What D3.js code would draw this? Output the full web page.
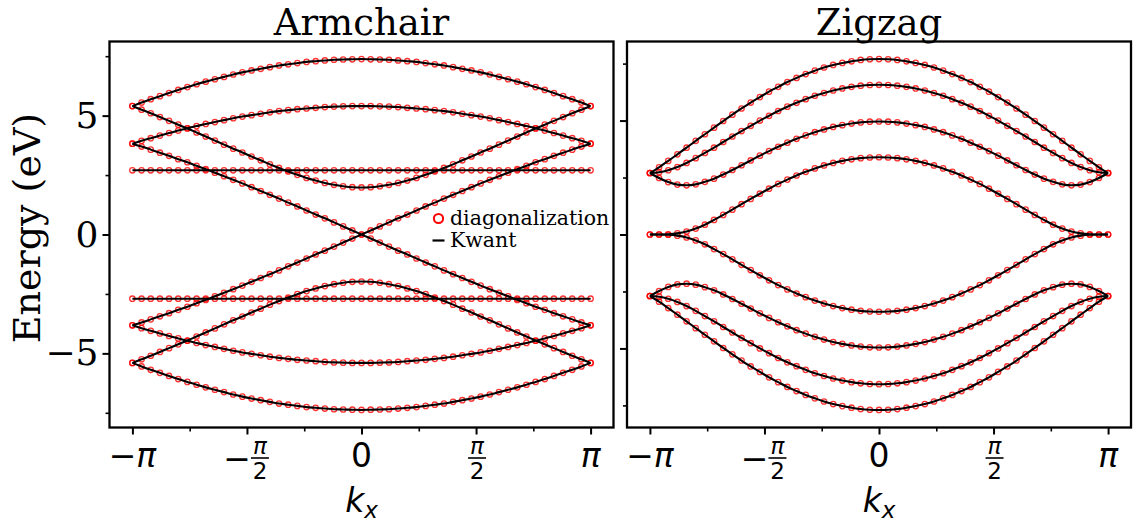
<!DOCTYPE html>
<html>
<head>
<meta charset="utf-8">
<script src="https://cdn.jsdelivr.net/npm/d3@7"></script>
<style>
  body { margin: 0; background: #fff; }
  svg { display: block; }
</style>
</head>
<body>
<svg id="chart" width="1140" height="526"></svg>
<script>
// Wave vector grid, in units of pi
const kx = [-1.00, -0.96, -0.92, -0.88, -0.84, -0.80, -0.76, -0.72, -0.68, -0.64, -0.60,
            -0.56, -0.52, -0.48, -0.44, -0.40, -0.36, -0.32, -0.28, -0.24, -0.20,
            -0.16, -0.12, -0.08, -0.04, 0.00, 0.04, 0.08, 0.12, 0.16, 0.20,
            0.24, 0.28, 0.32, 0.36, 0.40, 0.44, 0.48, 0.52, 0.56, 0.60,
            0.64, 0.68, 0.72, 0.76, 0.80, 0.84, 0.88, 0.92, 0.96, 1.00];

// Armchair ribbon bands (eV)
const arm1 = [5.40, 5.55, 5.69, 5.82, 5.95, 6.08, 6.20, 6.32, 6.43, 6.53, 6.63, 6.73, 6.82, 6.90, 6.97, 7.04, 7.11, 7.16, 7.21, 7.26, 7.29, 7.32, 7.35, 7.36, 7.37, 7.38, 7.37, 7.36, 7.35, 7.32, 7.29, 7.26, 7.21, 7.16, 7.11, 7.04, 6.97, 6.90, 6.82, 6.73, 6.63, 6.53, 6.43, 6.32, 6.20, 6.08, 5.95, 5.82, 5.69, 5.55, 5.40];
const arm2 = [3.82, 3.94, 4.05, 4.16, 4.27, 4.37, 4.47, 4.56, 4.65, 4.73, 4.81, 4.89, 4.96, 5.02, 5.08, 5.14, 5.19, 5.23, 5.27, 5.30, 5.33, 5.36, 5.38, 5.39, 5.40, 5.40, 5.40, 5.39, 5.38, 5.36, 5.33, 5.30, 5.27, 5.23, 5.19, 5.14, 5.08, 5.02, 4.96, 4.89, 4.81, 4.73, 4.65, 4.56, 4.47, 4.37, 4.27, 4.16, 4.05, 3.94, 3.82];
const arm3 = [2.70, 2.70, 2.70, 2.70, 2.70, 2.70, 2.70, 2.70, 2.70, 2.70, 2.70, 2.70, 2.70, 2.70, 2.70, 2.70, 2.70, 2.70, 2.70, 2.70, 2.70, 2.70, 2.70, 2.70, 2.70, 2.70, 2.70, 2.70, 2.70, 2.70, 2.70, 2.70, 2.70, 2.70, 2.70, 2.70, 2.70, 2.70, 2.70, 2.70, 2.70, 2.70, 2.70, 2.70, 2.70, 2.70, 2.70, 2.70, 2.70, 2.70, 2.70];
const arm4 = [5.40, 5.25, 5.10, 4.94, 4.78, 4.62, 4.46, 4.29, 4.12, 3.95, 3.78, 3.61, 3.45, 3.28, 3.12, 2.95, 2.80, 2.65, 2.51, 2.38, 2.27, 2.17, 2.09, 2.03, 1.99, 1.98, 1.99, 2.03, 2.09, 2.17, 2.27, 2.38, 2.51, 2.65, 2.80, 2.95, 3.12, 3.28, 3.45, 3.61, 3.78, 3.95, 4.12, 4.29, 4.46, 4.62, 4.78, 4.94, 5.10, 5.25, 5.40];
const arm5 = [-3.82, -3.70, -3.57, -3.44, -3.31, -3.17, -3.04, -2.89, -2.75, -2.60, -2.45, -2.30, -2.15, -1.99, -1.83, -1.67, -1.51, -1.34, -1.18, -1.01, -0.84, -0.68, -0.51, -0.34, -0.17, 0.00, 0.17, 0.34, 0.51, 0.68, 0.84, 1.01, 1.18, 1.34, 1.51, 1.67, 1.83, 1.99, 2.15, 2.30, 2.45, 2.60, 2.75, 2.89, 3.04, 3.17, 3.31, 3.44, 3.57, 3.70, 3.82];
const arm6 = [3.82, 3.70, 3.57, 3.44, 3.31, 3.17, 3.04, 2.89, 2.75, 2.60, 2.45, 2.30, 2.15, 1.99, 1.83, 1.67, 1.51, 1.34, 1.18, 1.01, 0.84, 0.68, 0.51, 0.34, 0.17, 0.00, -0.17, -0.34, -0.51, -0.68, -0.84, -1.01, -1.18, -1.34, -1.51, -1.67, -1.83, -1.99, -2.15, -2.30, -2.45, -2.60, -2.75, -2.89, -3.04, -3.17, -3.31, -3.44, -3.57, -3.70, -3.82];
const arm7 = [-5.40, -5.25, -5.10, -4.94, -4.78, -4.62, -4.46, -4.29, -4.12, -3.95, -3.78, -3.61, -3.45, -3.28, -3.12, -2.95, -2.80, -2.65, -2.51, -2.38, -2.27, -2.17, -2.09, -2.03, -1.99, -1.98, -1.99, -2.03, -2.09, -2.17, -2.27, -2.38, -2.51, -2.65, -2.80, -2.95, -3.12, -3.28, -3.45, -3.61, -3.78, -3.95, -4.12, -4.29, -4.46, -4.62, -4.78, -4.94, -5.10, -5.25, -5.40];
const arm8 = [-2.70, -2.70, -2.70, -2.70, -2.70, -2.70, -2.70, -2.70, -2.70, -2.70, -2.70, -2.70, -2.70, -2.70, -2.70, -2.70, -2.70, -2.70, -2.70, -2.70, -2.70, -2.70, -2.70, -2.70, -2.70, -2.70, -2.70, -2.70, -2.70, -2.70, -2.70, -2.70, -2.70, -2.70, -2.70, -2.70, -2.70, -2.70, -2.70, -2.70, -2.70, -2.70, -2.70, -2.70, -2.70, -2.70, -2.70, -2.70, -2.70, -2.70, -2.70];
const arm9 = [-3.82, -3.94, -4.05, -4.16, -4.27, -4.37, -4.47, -4.56, -4.65, -4.73, -4.81, -4.89, -4.96, -5.02, -5.08, -5.14, -5.19, -5.23, -5.27, -5.30, -5.33, -5.36, -5.38, -5.39, -5.40, -5.40, -5.40, -5.39, -5.38, -5.36, -5.33, -5.30, -5.27, -5.23, -5.19, -5.14, -5.08, -5.02, -4.96, -4.89, -4.81, -4.73, -4.65, -4.56, -4.47, -4.37, -4.27, -4.16, -4.05, -3.94, -3.82];
const arm10 = [-5.40, -5.55, -5.69, -5.82, -5.95, -6.08, -6.20, -6.32, -6.43, -6.53, -6.63, -6.73, -6.82, -6.90, -6.97, -7.04, -7.11, -7.16, -7.21, -7.26, -7.29, -7.32, -7.35, -7.36, -7.37, -7.38, -7.37, -7.36, -7.35, -7.32, -7.29, -7.26, -7.21, -7.16, -7.11, -7.04, -6.97, -6.90, -6.82, -6.73, -6.63, -6.53, -6.43, -6.32, -6.20, -6.08, -5.95, -5.82, -5.69, -5.55, -5.40];

// Zigzag ribbon bands (eV)
const zig1 = [2.70, 2.95, 3.23, 3.52, 3.81, 4.11, 4.40, 4.69, 4.98, 5.26, 5.53, 5.79, 6.03, 6.27, 6.48, 6.69, 6.87, 7.04, 7.19, 7.33, 7.44, 7.53, 7.60, 7.66, 7.69, 7.70, 7.69, 7.66, 7.60, 7.53, 7.44, 7.33, 7.19, 7.04, 6.87, 6.69, 6.48, 6.27, 6.03, 5.79, 5.53, 5.26, 4.98, 4.69, 4.40, 4.11, 3.81, 3.52, 3.23, 2.95, 2.70];
const zig2 = [2.70, 2.73, 2.82, 2.96, 3.14, 3.35, 3.58, 3.81, 4.06, 4.30, 4.54, 4.77, 5.00, 5.21, 5.42, 5.61, 5.78, 5.94, 6.09, 6.21, 6.32, 6.41, 6.48, 6.53, 6.56, 6.57, 6.56, 6.53, 6.48, 6.41, 6.32, 6.21, 6.09, 5.94, 5.78, 5.61, 5.42, 5.21, 5.00, 4.77, 4.54, 4.30, 4.06, 3.81, 3.58, 3.35, 3.14, 2.96, 2.82, 2.73, 2.70];
const zig3 = [2.70, 2.48, 2.30, 2.19, 2.16, 2.20, 2.31, 2.45, 2.63, 2.83, 3.04, 3.25, 3.46, 3.66, 3.85, 4.03, 4.20, 4.35, 4.49, 4.61, 4.72, 4.80, 4.87, 4.92, 4.95, 4.96, 4.95, 4.92, 4.87, 4.80, 4.72, 4.61, 4.49, 4.35, 4.20, 4.03, 3.85, 3.66, 3.46, 3.25, 3.04, 2.83, 2.63, 2.45, 2.31, 2.20, 2.16, 2.19, 2.30, 2.48, 2.70];
const zig4 = [0.00, 0.00, 0.01, 0.05, 0.13, 0.26, 0.43, 0.64, 0.86, 1.09, 1.33, 1.56, 1.79, 2.01, 2.22, 2.41, 2.59, 2.75, 2.90, 3.03, 3.14, 3.23, 3.30, 3.35, 3.38, 3.39, 3.38, 3.35, 3.30, 3.23, 3.14, 3.03, 2.90, 2.75, 2.59, 2.41, 2.22, 2.01, 1.79, 1.56, 1.33, 1.09, 0.86, 0.64, 0.43, 0.26, 0.13, 0.05, 0.01, 0.00, 0.00];
const zig5 = [-0.00, -0.00, -0.01, -0.05, -0.13, -0.26, -0.43, -0.64, -0.86, -1.09, -1.33, -1.56, -1.79, -2.01, -2.22, -2.41, -2.59, -2.75, -2.90, -3.03, -3.14, -3.23, -3.30, -3.35, -3.38, -3.39, -3.38, -3.35, -3.30, -3.23, -3.14, -3.03, -2.90, -2.75, -2.59, -2.41, -2.22, -2.01, -1.79, -1.56, -1.33, -1.09, -0.86, -0.64, -0.43, -0.26, -0.13, -0.05, -0.01, -0.00, -0.00];
const zig6 = [-2.70, -2.48, -2.30, -2.19, -2.16, -2.20, -2.31, -2.45, -2.63, -2.83, -3.04, -3.25, -3.46, -3.66, -3.85, -4.03, -4.20, -4.35, -4.49, -4.61, -4.72, -4.80, -4.87, -4.92, -4.95, -4.96, -4.95, -4.92, -4.87, -4.80, -4.72, -4.61, -4.49, -4.35, -4.20, -4.03, -3.85, -3.66, -3.46, -3.25, -3.04, -2.83, -2.63, -2.45, -2.31, -2.20, -2.16, -2.19, -2.30, -2.48, -2.70];
const zig7 = [-2.70, -2.73, -2.82, -2.96, -3.14, -3.35, -3.58, -3.81, -4.06, -4.30, -4.54, -4.77, -5.00, -5.21, -5.42, -5.61, -5.78, -5.94, -6.09, -6.21, -6.32, -6.41, -6.48, -6.53, -6.56, -6.57, -6.56, -6.53, -6.48, -6.41, -6.32, -6.21, -6.09, -5.94, -5.78, -5.61, -5.42, -5.21, -5.00, -4.77, -4.54, -4.30, -4.06, -3.81, -3.58, -3.35, -3.14, -2.96, -2.82, -2.73, -2.70];
const zig8 = [-2.70, -2.95, -3.23, -3.52, -3.81, -4.11, -4.40, -4.69, -4.98, -5.26, -5.53, -5.79, -6.03, -6.27, -6.48, -6.69, -6.87, -7.04, -7.19, -7.33, -7.44, -7.53, -7.60, -7.66, -7.69, -7.70, -7.69, -7.66, -7.60, -7.53, -7.44, -7.33, -7.19, -7.04, -6.87, -6.69, -6.48, -6.27, -6.03, -5.79, -5.53, -5.26, -4.98, -4.69, -4.40, -4.11, -3.81, -3.52, -3.23, -2.95, -2.70];

const armchairBands = [arm1, arm2, arm3, arm4, arm5, arm6, arm7, arm8, arm9, arm10];
const zigzagBands = [zig1, zig2, zig3, zig4, zig5, zig6, zig7, zig8];

// Axis ticks
const xMajorTicks = [-1, -0.5, 0, 0.5, 1];       // units of pi
const xMinorTicks = [-0.75, -0.25, 0.25, 0.75];
const yMajorTicks = [-5, 0, 5];
const yMinorTicks = [-7.5, -2.5, 2.5, 7.5];
const yTickLabels = ["\u22125", "0", "5"];
const legendLabels = ["diagonalization", "Kwant"];
const titles = ["Armchair", "Zigzag"];

const SERIF = "'DejaVu Serif', serif";
const SANS = "'DejaVu Sans', sans-serif";
const PI = Math.PI;

const svg = d3.select("#chart");
const plotTop = 41.5, plotBottom = 427.5;

const panels = [
  { title: titles[0], left: 109.5, right: 613.5, bands: armchairBands, yLabels: true, legend: true },
  { title: titles[1], left: 627, right: 1131, bands: zigzagBands, yLabels: false, legend: false }
];

panels.forEach((p, pi) => {
  const x = d3.scaleLinear().domain([-1.1 * PI, 1.1 * PI]).range([p.left, p.right]);
  const all = p.bands.flat();
  const lo = d3.min(all), hi = d3.max(all), pad = 0.05 * (hi - lo);
  const y = d3.scaleLinear().domain([lo - pad, hi + pad]).range([plotBottom, plotTop]);

  const clipId = "clip" + pi;
  svg.append("clipPath").attr("id", clipId)
    .append("rect").attr("x", p.left).attr("y", plotTop)
    .attr("width", p.right - p.left).attr("height", plotBottom - plotTop);

  const plot = svg.append("g").attr("clip-path", `url(#${clipId})`);

  // diagonalization points
  p.bands.forEach(band => {
    plot.append("g").selectAll("circle").data(band).join("circle")
      .attr("cx", (d, i) => x(kx[i] * PI))
      .attr("cy", d => y(d))
      .attr("r", 2.7)
      .attr("fill", "none")
      .attr("stroke", "#ff0000")
      .attr("stroke-opacity", 0.8)
      .attr("stroke-width", 1.3);
  });

  // Kwant band lines
  const line = d3.line()
    .x((d, i) => x(kx[i] * PI))
    .y(d => y(d))
    .curve(d3.curveMonotoneX);
  p.bands.forEach(band => {
    plot.append("path").attr("d", line(band))
      .attr("fill", "none").attr("stroke", "#000").attr("stroke-width", 2.1);
  });

  // x axis ticks
  const xAxisMajor = d3.axisBottom(x).tickValues(xMajorTicks.map(v => v * PI))
    .tickSize(7).tickFormat("");
  const xAxisMinor = d3.axisBottom(x).tickValues(xMinorTicks.map(v => v * PI))
    .tickSize(4).tickFormat("");
  [xAxisMajor, xAxisMinor].forEach((ax, j) => {
    const g = svg.append("g").attr("transform", `translate(0,${plotBottom})`).call(ax);
    g.select(".domain").remove();
    g.selectAll(".tick line").attr("stroke", "#000").attr("stroke-width", j === 0 ? 2 : 1.6);
  });

  // y axis ticks
  const yAxisMajor = d3.axisLeft(y).tickValues(yMajorTicks).tickSize(7).tickPadding(4)
    .tickFormat((d, i) => p.yLabels ? yTickLabels[i] : "");
  const yAxisMinor = d3.axisLeft(y).tickValues(yMinorTicks).tickSize(4).tickFormat("");
  [yAxisMajor, yAxisMinor].forEach((ax, j) => {
    const g = svg.append("g").attr("transform", `translate(${p.left},0)`).call(ax);
    g.select(".domain").remove();
    g.selectAll(".tick line").attr("stroke", "#000").attr("stroke-width", j === 0 ? 2 : 1.6);
    g.selectAll(".tick text").attr("font-family", SERIF).attr("font-size", 36)
      .attr("fill", "#000");
  });

  // frame
  svg.append("rect").attr("x", p.left).attr("y", plotTop)
    .attr("width", p.right - p.left).attr("height", plotBottom - plotTop)
    .attr("fill", "none").attr("stroke", "#000").attr("stroke-width", 2.3);

  // x tick labels (multiples of pi)
  const lab = svg.append("g").attr("font-family", SANS).attr("fill", "#000");
  xMajorTicks.forEach(v => {
    const cx = x(v * PI);
    if (v === 0) {
      lab.append("text").attr("x", cx).attr("y", 467).attr("text-anchor", "middle")
        .attr("font-size", 33).text("0");
    } else if (Math.abs(v) === 1) {
      const t = lab.append("text").attr("x", cx).attr("y", 467).attr("text-anchor", "middle")
        .attr("font-size", 33);
      if (v < 0) t.append("tspan").text("\u2212");
      t.append("tspan").attr("font-style", "italic").text("\u03c0");
    } else {
      const fx = v < 0 ? cx + 13 : cx + 1;
      const barY = 458;
      if (v < 0) {
        lab.append("text").attr("x", cx - 10).attr("y", barY + 11.5).attr("text-anchor", "middle")
          .attr("font-size", 33).text("\u2212");
      }
      lab.append("line").attr("x1", fx - 9).attr("x2", fx + 9)
        .attr("y1", barY).attr("y2", barY).attr("stroke", "#000").attr("stroke-width", 1.6);
      lab.append("text").attr("x", fx).attr("y", barY - 4).attr("text-anchor", "middle")
        .attr("font-size", 23).attr("font-style", "italic").text("\u03c0");
      lab.append("text").attr("x", fx).attr("y", barY + 21).attr("text-anchor", "middle")
        .attr("font-size", 23).text("2");
    }
  });

  // x axis label
  const xl = svg.append("text").attr("x", (p.left + p.right) / 2).attr("y", 512)
    .attr("text-anchor", "middle").attr("font-family", SANS).attr("fill", "#000");
  xl.append("tspan").attr("font-size", 33).attr("font-style", "italic").text("k");
  xl.append("tspan").attr("font-size", 23).attr("font-style", "italic").attr("dy", 6).text("x");

  // title
  svg.append("text").attr("x", (p.left + p.right) / 2).attr("y", 34.5)
    .attr("text-anchor", "middle").attr("font-family", SERIF).attr("font-size", 37)
    .attr("fill", "#000").text(p.title);

  // legend
  if (p.legend) {
    const lg = svg.append("g").attr("font-family", SERIF).attr("font-size", 20.5).attr("fill", "#000");
    lg.append("circle").attr("cx", 438.5).attr("cy", 218.5).attr("r", 4.6)
      .attr("fill", "none").attr("stroke", "#ff0000").attr("stroke-width", 2);
    lg.append("text").attr("x", 450).attr("y", 225).text(legendLabels[0]);
    lg.append("line").attr("x1", 432.5).attr("x2", 444.5).attr("y1", 240.5).attr("y2", 240.5)
      .attr("stroke", "#000").attr("stroke-width", 2.2);
    lg.append("text").attr("x", 450).attr("y", 247).text(legendLabels[1]);
  }
});

// y axis label
svg.append("text")
  .attr("transform", `translate(40,228) rotate(-90)`)
  .attr("text-anchor", "middle").attr("font-family", SERIF).attr("font-size", 38)
  .attr("fill", "#000").text("Energy (eV)");
</script>
</body>
</html>
